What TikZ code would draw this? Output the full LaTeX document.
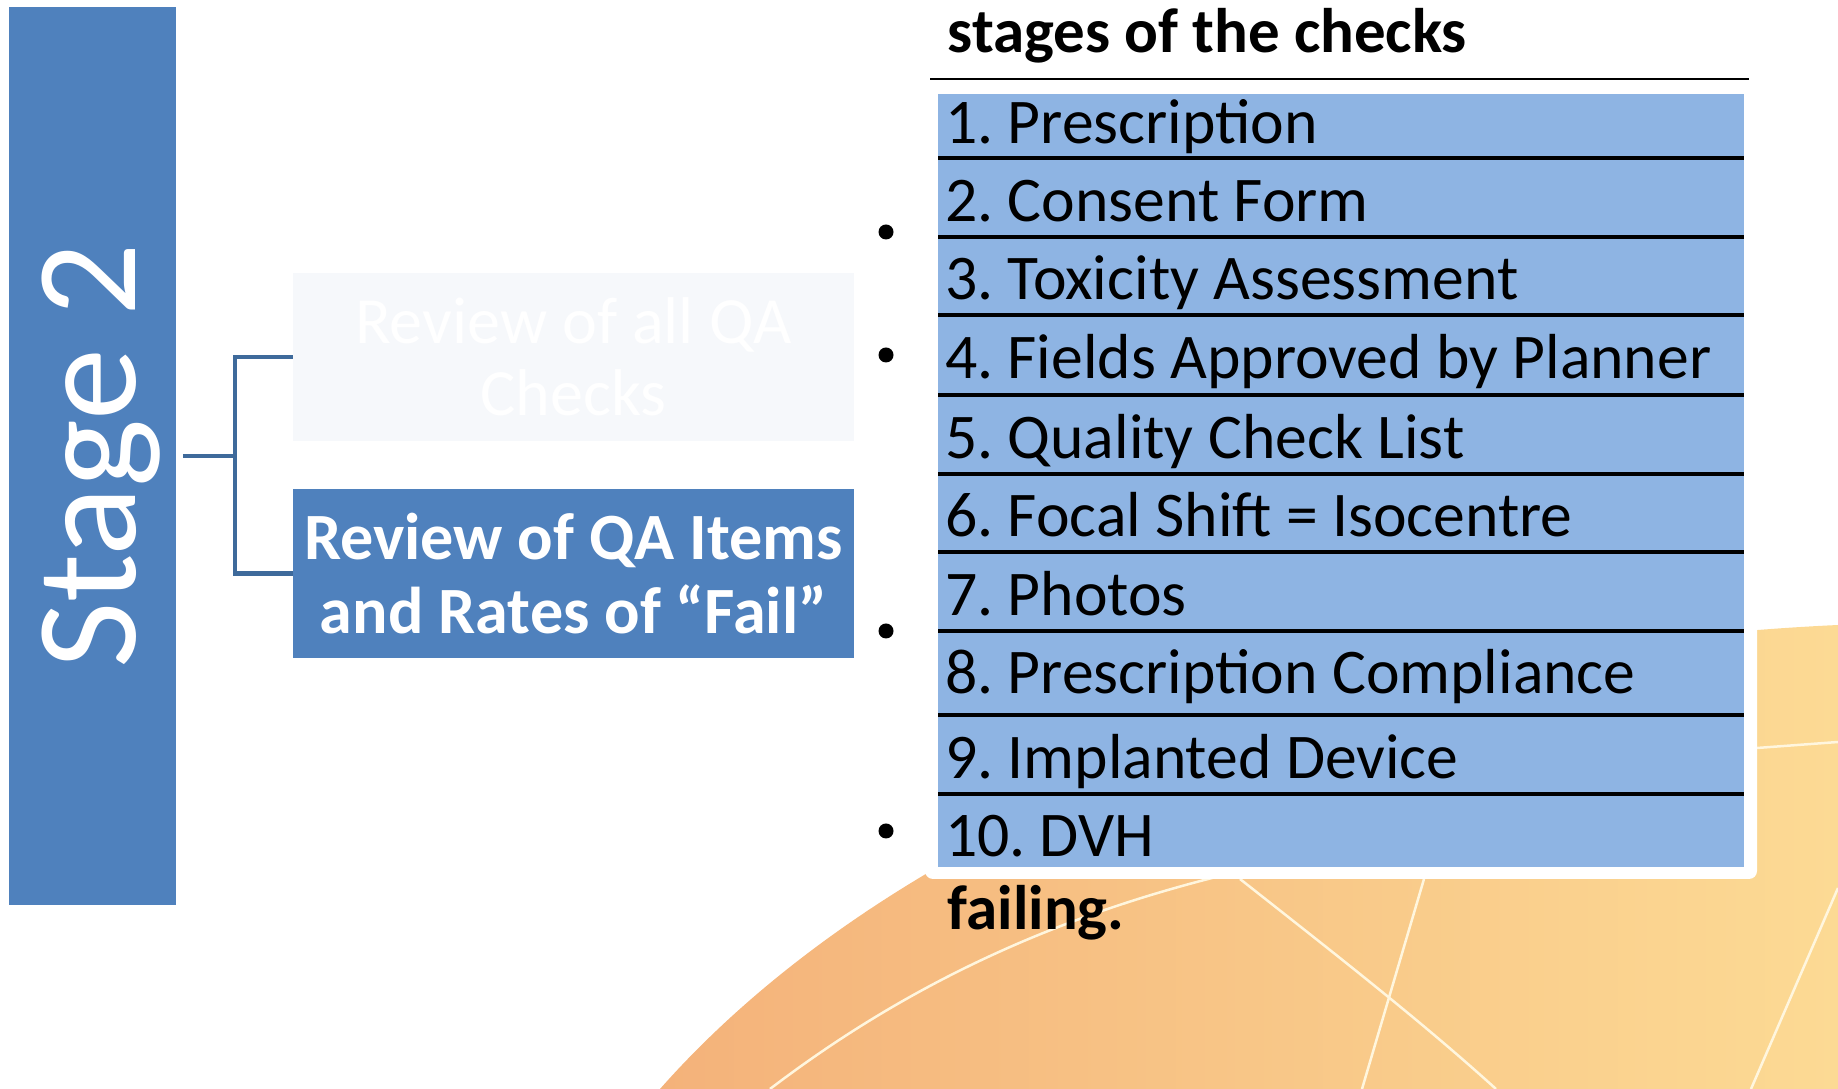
\documentclass[tikz,border=0pt]{standalone}
\usepackage{fontspec}
\setmainfont{Carlito}
\frenchspacing
\usetikzlibrary{shapes.geometric,arrows,positioning}
\definecolor{stageblue}{HTML}{4F81BD}
\definecolor{rowblue}{HTML}{8EB4E3}
\definecolor{linkblue}{HTML}{3E6A9B}
\definecolor{paleblue}{HTML}{F6F8FB}
\definecolor{warmorange}{HTML}{F4B27A}
\definecolor{warmyellow}{HTML}{FCDA94}
\definecolor{cream}{HTML}{FFF6DE}

\begin{document}
\begin{tikzpicture}[x=0.01cm,y=-0.01cm]

      \tikzstyle{stagebar}=[rectangle,fill=stageblue,text=white,
        minimum width=8.98cm,minimum height=1.67cm,
        rotate=90,inner sep=0pt,
        font=\fontsize{41pt}{49pt}\selectfont]
      \tikzstyle{reviewbox}=[rectangle,text=white,
        minimum width=5.6cm,minimum height=1.68cm,
        text width=5.56cm,align=flush center,inner sep=0pt]
      \tikzstyle{itemrow}=[rectangle,fill=rowblue,
        text width=7.92cm,align=flush left,inner xsep=0.07cm,
        inner ysep=0pt,outer sep=0pt,
        text height=0.63cm,text depth=0.155cm,
        font=\fontsize{18.1pt}{21pt}\selectfont]
      \tikzstyle{headtext}=[inner sep=0pt,anchor=base west,
        font=\bfseries\fontsize{17.9pt}{21pt}\selectfont]
      \tikzstyle{dot}=[circle,fill=black,minimum size=0.15cm,inner sep=0pt]
      \tikzstyle{bracket}=[line width=0.045cm,linkblue]
      \tikzstyle{rowrule}=[line width=0.04cm,black]
      \tikzstyle{swoosh}=[line width=0.025cm,cream]

      \useasboundingbox (0,0) rectangle (1838,1089);

      \shade [left color=warmorange,right color=warmyellow]
      (660,1089) .. controls (880,840) and (1300,650) .. (1838,625)
      -- (1838,1089) -- cycle;
      \draw [swoosh] (770,1089) .. controls (900,990) and (1050,915) .. (1245,870);
      \draw [swoosh] (1240,879) .. controls (1330,950) and (1420,1020) .. (1496,1089);
      \draw [swoosh] (1424,879) -- (1362,1089);
      \draw [swoosh] (1757,748) -- (1838,742);
      \draw [swoosh] (1838,888) -- (1751,1089);
      \fill [white,rounded corners=0.08cm] (925,70) rectangle (1757,879);

      \node (Stage)[stagebar,text height=0.92cm,text depth=0.07cm]
        at (92.5,456) {Stage 2};

      \node (AllChecks)[reviewbox,fill=paleblue,
        font=\fontsize{18.8pt}{20.6pt}\selectfont]
        at (573.5,357) {Review of all QA\\Checks};
      \node (FailRates)[reviewbox,fill=stageblue,below=0.47cm of AllChecks,
        font=\bfseries\fontsize{18.8pt}{21pt}\selectfont]
        {Review of QA Items\\and Rates of “Fail”};

      \coordinate (Fork) at ([xshift=0.58cm]Stage.south);
      \draw [bracket] ([xshift=0.06cm]Stage.south) -- (Fork);
      \draw [bracket] (AllChecks.west) -| (Fork);
      \draw [bracket] (FailRates.west) -| (Fork);

      \node (Heading)[headtext] at (947,53) {stages of the checks};

      \node (Item1)[itemrow,text height=0.49cm,text depth=0.153cm,
        anchor=north west] at (938,94) {1. Prescription};
      \node (Item2)[itemrow,below=0pt of Item1] {2. Consent Form};
      \node (Item3)[itemrow,below=0pt of Item2] {3. Toxicity Assessment};
      \node (Item4)[itemrow,text depth=0.167cm,below=0pt of Item3]
        {4. Fields Approved by Planner};
      \node (Item5)[itemrow,below=0pt of Item4] {5. Quality Check List};
      \node (Item6)[itemrow,below=0pt of Item5] {6. Focal Shift = Isocentre};
      \node (Item7)[itemrow,below=0pt of Item6] {7. Photos};
      \node (Item8)[itemrow,text depth=0.214cm,below=0pt of Item7]
        {8. Prescription Compliance};
      \node (Item9)[itemrow,below=0pt of Item8] {9. Implanted Device};
      \node (Item10)[itemrow,text depth=0.104cm,below=0pt of Item9]
        {10. DVH};

      \foreach \n in {1,...,9}
        \draw [rowrule] (Item\n.south west) -- (Item\n.south east);
      \draw [line width=0.025cm]
      ([xshift=-0.08cm,yshift=0.15cm]Item1.north west)
      -- ([xshift=0.05cm,yshift=0.15cm]Item1.north east);

      \node (Dot1)[dot] at (886,232) {};
      \node (Dot2)[dot] at (886,355) {};
      \node (Dot3)[dot] at (886,631) {};
      \node (Dot4)[dot] at (886,831) {};

      \node (Tail)[headtext] at (947,930) {failing.};

    \end{tikzpicture}
\end{document}
